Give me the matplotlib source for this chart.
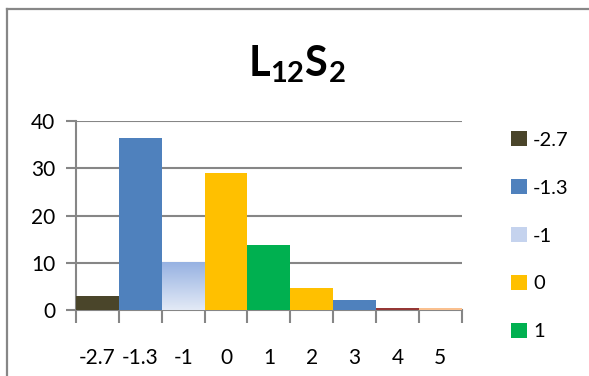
import matplotlib
matplotlib.use("Agg")
import matplotlib.pyplot as plt
import numpy as np
from matplotlib.patches import Patch
from matplotlib.colors import LinearSegmentedColormap

plt.rcParams['font.family'] = ['Lato', 'DejaVu Sans']
plt.rcParams['mathtext.fontset'] = 'custom'
plt.rcParams['mathtext.bf'] = 'Lato:bold'
plt.rcParams['mathtext.rm'] = 'Lato:bold'

categories = ['-2.7', '-1.3', '-1', '0', '1', '2', '3', '4', '5']
values = [3.0, 36.4, 10.0, 29.0, 13.8, 4.7, 2.1, 0.5, 0.4]
colors = ['#4a452a', '#4f81bd', '#c5d3ee', '#ffc000', '#00b050',
          '#ffc000', '#4f81bd', '#953735', '#fac08f']
legend_count = 5
grid_col = '#868686'

fig = plt.figure(figsize=(5.89, 3.76), dpi=100)
ax = fig.add_axes([76/589, 1-310/376, (461.7-76)/589, (310-121)/376])

x = np.arange(len(categories))
bars = ax.bar(x, values, width=1.0, color=colors, zorder=3, linewidth=0)

# gradient fill for the "-1" bar, like the Excel original
grad = LinearSegmentedColormap.from_list('g', ['#e3eaf6', '#97b2e2'])
b = bars[2]
b.set_alpha(0)
ax.imshow(np.linspace(0, 1, 100).reshape(-1, 1), cmap=grad, origin='lower',
          extent=(b.get_x(), b.get_x() + b.get_width(), 0, b.get_height()),
          aspect='auto', zorder=3)

ax.set_xlim(-0.5, len(categories) - 0.5)
ax.set_ylim(0, 40)
ax.set_yticks([0, 10, 20, 30, 40])
ax.yaxis.grid(True, color=grid_col, linewidth=1.5, zorder=0)
ax.set_axisbelow(True)

ax.set_xticks(np.arange(-0.5, len(categories)))
ax.set_xticklabels([])
ax.set_xticks(x, minor=True)
ax.set_xticklabels(categories, minor=True)
ax.tick_params(axis='x', which='major', length=9, width=1.5, color=grid_col)
ax.tick_params(axis='x', which='minor', length=0, pad=27, labelsize=15)
ax.tick_params(axis='y', length=7, width=1.5, color=grid_col, labelsize=15, pad=8)

for s in ['top', 'right']:
    ax.spines[s].set_visible(False)
for s in ['left', 'bottom']:
    ax.spines[s].set_color(grid_col)
    ax.spines[s].set_linewidth(1.5)
    ax.spines[s].set_zorder(2)

handles = [Patch(facecolor=colors[i], edgecolor='none') for i in range(legend_count)]
fig.legend(handles, categories[:legend_count], loc='upper left',
           bbox_to_anchor=(503/589, 1-123/376), frameon=False, fontsize=14.5,
           handlelength=0.8, handleheight=0.8, handletextpad=0.3,
           labelspacing=1.5, borderaxespad=0)

fig.text(297/589, 1-64/376, r'$\mathbf{L_{12}S_2}$', ha='center', va='center',
         fontsize=30)

# chart frame (only top and left edges visible)
fig.add_artist(plt.Line2D([7/589, 1], [1-9/376, 1-9/376], color='#878787',
                          linewidth=1.6, transform=fig.transFigure))
fig.add_artist(plt.Line2D([7/589, 7/589], [0, 1-9/376], color='#878787',
                          linewidth=1.6, transform=fig.transFigure))

fig.savefig('out.png', dpi=100)
